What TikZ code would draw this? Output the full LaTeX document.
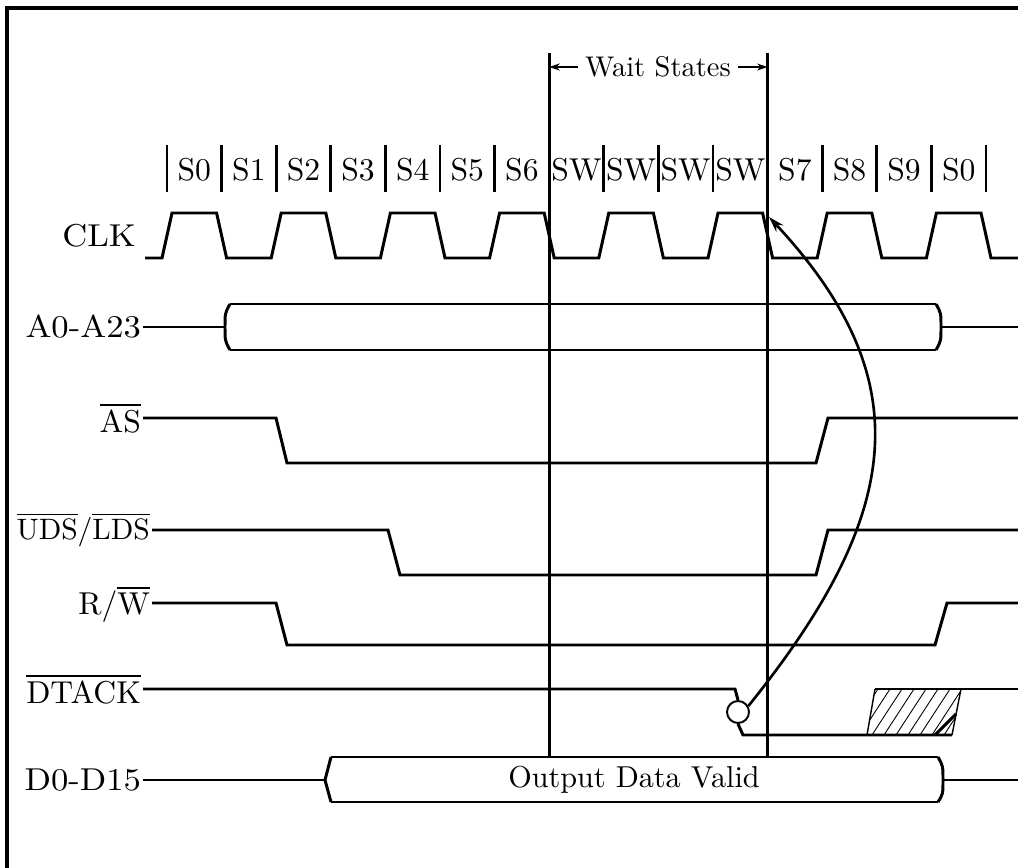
\documentclass[tikz,border=0pt]{standalone}
\usepackage{fontspec}
\usepackage{tikz}
\usetikzlibrary{arrows.meta}
\newcommand{\ovl}[1]{$\overline{\mbox{#1}}$}
\newcommand{\sig}[2][1.8]{\scalebox{#1}{#2}}
\newcommand{\wsig}[1]{\scalebox{1.97}[1.8]{#1}}
\tikzset{
  >=Stealth,
  frame/.style   = {line width=2.2pt},
  wave/.style    = {line width=1.7pt, line join=miter},
  bar/.style     = {line width=1.5pt},
  marker/.style  = {line width=1.6pt},
  hatch/.style   = {line width=0.5pt},
  edge/.style    = {line width=0.8pt},
  lbl/.style     = {anchor=east, inner sep=1pt},
  state/.style   = {inner sep=0pt},
  warrow/.style  = {-{Stealth[length=6pt, width=4pt]}, line width=0.9pt},
  carrow/.style  = {-{Stealth[length=9pt, width=5.5pt]}, line width=1.5pt},
}

\begin{document}
\begin{tikzpicture}[x=0.02cm, y=-0.02cm]
  \useasboundingbox (0,0) rectangle (1018,868);
  \clip (0,0) rectangle (1018,868);

  % ---------- frame --------------------------------------------------
  \draw[frame] (1030,8) -- (7,8) -- (7,880);

  % ---------- state ticks and names ----------------------------------
  \foreach \k in {0,...,6,8,9,10,12,13,14,15}
    \draw[bar] ({167+54.6*\k},145) -- ({167+54.6*\k},192);
  \foreach \s [count=\i from 0] in {S0,S1,S2,S3,S4,S5,S6,SW,SW,SW,SW,S7,S8,S9,S0}
    \node[state] (st\i) at ({167+54.6*(\i+0.5)},170) {\sig{\s}};

  % ---------- wait state markers -------------------------------------
  \draw[marker] (549.2,53) -- (549.2,757);
  \draw[marker] (767.6,53) -- (767.6,757);
  \node[state, inner sep=4pt] (wait) at (658,67) {\sig[1.62]{Wait States}};
  \coordinate (wl) at (549.2,67);
  \coordinate (wr) at (767.6,67);
  \draw[warrow] (wait.west) -- (wl);
  \draw[warrow] (wait.east) -- (wr);

  % ---------- signal names -------------------------------------------
  \node[lbl] (lclk)  at (138,236) {\wsig{CLK}};
  \node[lbl] (laddr) at (143,327) {\wsig{A0-A23}};
  \node[lbl] (las)   at (143,418) {\sig{\ovl{AS}}};
  \node[lbl] (lds)   at (152,530) {\sig[1.68]{\ovl{UDS}/\ovl{LDS}}};
  \node[lbl] (lrw)   at (152,604) {\sig{R/\ovl{W}}};
  \node[lbl] (ldtk)  at (143,689) {\sig{\ovl{DTACK}}};
  \node[lbl] (ldata) at (143,780) {\wsig{D0-D15}};

  % ---------- CLK ----------------------------------------------------
  \draw[wave] (145,258)
    \foreach \k in {0,...,7} {
      -- ({167+109.2*\k-5},258) -- ({167+109.2*\k+5},213)
      -- ({221.6+109.2*\k-5},213) -- ({221.6+109.2*\k+5},258)
    } -- (1025,258);

  % ---------- A0-A23 -------------------------------------------------
  \draw[wave] (laddr.east) -- (225,327);
  \draw[wave] (230,304) .. controls (225,313) .. (225,327)
              .. controls (225,341) .. (230,350);
  \draw[wave] (230,304) -- (936,304);
  \draw[wave] (230,350) -- (936,350);
  \draw[wave] (936,304) .. controls (941,313) .. (941,327)
              .. controls (941,341) .. (936,350);
  \draw[wave] (941,327) -- (1025,327);

  % ---------- AS, UDS/LDS, R/W ---------------------------------------
  \draw[wave] (las.east) -- (276,418) -- (287,463) -- (816,463)
              -- (828,418) -- (1025,418);
  \draw[wave] (lds.east) -- (388,530) -- (400,575) -- (816,575)
              -- (828,530) -- (1025,530);
  \draw[wave] (lrw.east |- 0,603) -- (276,603) -- (287,645) -- (935,645)
              -- (947,603) -- (1025,603);

  % ---------- DTACK --------------------------------------------------
  \node[draw, circle, line width=1.1pt, minimum size=0.44cm, inner sep=0pt]
    (dcirc) at (738,712) {};
  \draw[wave] (ldtk.east) -- (735,689) -- (dcirc.north);
  \draw[wave] (dcirc.south) -- (743,735) -- (952,735);
  \begin{scope}
    \clip (867,735) -- (875,689) -- (961,689) -- (952,735) -- cycle;
    \foreach \h in {800,812,...,980}
      \draw[hatch] (\h,735) -- ++(30,-46);
  \end{scope}
  \draw[edge] (867,735) -- (875,689);
  \draw[edge] (952,735) -- (961,689);
  \draw[wave] (935,735) -- (956,714);
  \draw[wave] (875,689) -- (1025,689);
  \coordinate (tip) at (769,217);
  \draw[carrow] (dcirc.30) .. controls (902,515) and (922,381) .. (tip);

  % ---------- D0-D15 -------------------------------------------------
  \draw[wave] (ldata.east) -- (325,780);
  \draw[wave] (331,757) -- (325,780) -- (331,802);
  \draw[wave] (331,757) -- (938,757);
  \draw[wave] (331,802) -- (938,802);
  \draw[wave] (938,757) .. controls (943,766) .. (943,780)
              .. controls (943,794) .. (938,802);
  \draw[wave] (943,780) -- (1025,780);
  \node[state] (valid) at (634,780) {\sig[1.72]{Output Data Valid}};
\end{tikzpicture}
\end{document}
